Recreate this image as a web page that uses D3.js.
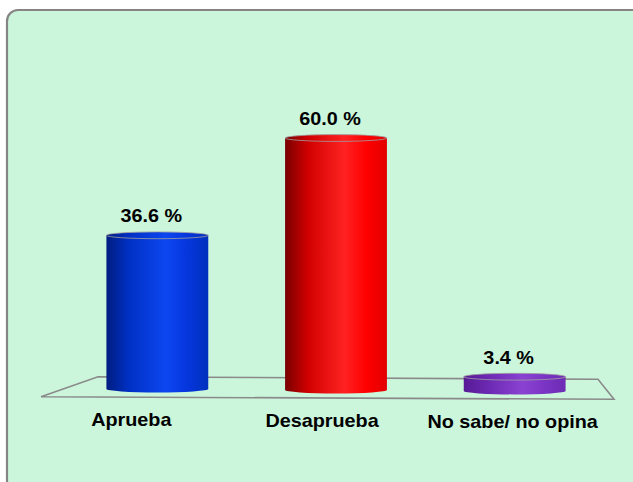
<!DOCTYPE html>
<html>
<head>
<meta charset="utf-8">
<script src="https://cdn.jsdelivr.net/npm/d3@7"></script>
<style>
  body { margin: 0; background: #ffffff; }
  svg { display: block; }
  text { font-family: "Liberation Sans", Arial, sans-serif; font-weight: bold; fill: #000; }
</style>
</head>
<body>
<svg id="chart" width="633" height="482"></svg>
<script>
let categories = ["Aprueba", "Desaprueba", "No sabe/ no opina"];
let values = [36.6, 60.0, 3.4];
let valueLabels = ["36.6 %", "60.0 %", "3.4 %"];
let barColors = [
  ["#001d80", "#0030c4", "#0d46f0", "#0536dc", "#0030bc"],
  ["#780000", "#d00000", "#ff2222", "#ff0000", "#e20000"],
  ["#561a96", "#6a28b0", "#8a42d2", "#7a34c4", "#6c2cb4"]
];

let svg = d3.select("#chart");
let defs = svg.append("defs");

// panel
svg.append("rect")
  .attr("x", 7).attr("y", 10)
  .attr("width", 650).attr("height", 490)
  .attr("rx", 11)
  .style("fill", "#ccf6dc")
  .style("stroke", "#858585")
  .style("stroke-width", 2.2);

// floor (perspective plane)
let floor = { backL: [98, 376.7], backR: [598, 379.3], frontL: [41, 396.7], frontR: [614, 399.3] };
svg.append("path")
  .attr("d", d3.line()([floor.frontL, floor.backL, floor.backR, floor.frontR, floor.frontL]))
  .style("fill", "none")
  .style("stroke", "#8a8a8a")
  .style("stroke-width", 1.6);

// bars sit at the mid depth of the floor, labels along the front edge
let xScale = d3.scaleBand().domain(categories).range([68, 604]).paddingInner(0.43).paddingOuter(0.215);
let xFront = d3.scaleBand().domain(categories).range([36, 608]);
let hScale = d3.scaleLinear().domain([0, 60]).range([0, 252]);
let baseY = d3.scaleLinear().domain([157, 515]).range([389, 391]);

let ry = 3.4;

categories.forEach(function(c, i) {
  let g = defs.append("linearGradient").attr("id", "grad" + i)
    .attr("x1", "0%").attr("x2", "100%").attr("y1", "0%").attr("y2", "0%");
  let stops = [0, 0.22, 0.58, 0.8, 1];
  stops.forEach(function(s, j) {
    g.append("stop").attr("offset", s).attr("stop-color", barColors[i][j]);
  });
});

function label(x, y, txt) {
  svg.append("text")
    .attr("transform", "translate(" + x + "," + y + ") scale(1.1,1)")
    .attr("text-anchor", "middle")
    .style("font-size", "18px")
    .text(txt);
}

let bars = svg.append("g");
categories.forEach(function(c, i) {
  let x0 = xScale(c);
  let w = xScale.bandwidth();
  let cx = x0 + w / 2;
  let yb = baseY(cx);
  let yt = yb - hScale(values[i]);
  let rx = w / 2;

  let body = "M" + x0 + "," + yt +
    " L" + x0 + "," + yb +
    " A" + rx + "," + ry + " 0 0 0 " + (x0 + w) + "," + yb +
    " L" + (x0 + w) + "," + yt + " Z";
  bars.append("path")
    .attr("d", body)
    .style("fill", "url(#grad" + i + ")");

  bars.append("ellipse")
    .attr("cx", cx).attr("cy", yt)
    .attr("rx", rx).attr("ry", ry)
    .style("fill", "url(#grad" + i + ")")
    .style("stroke", "#a0a0a0")
    .style("stroke-width", 0.8);

  label(cx - 6, yt - ry - 9.5, valueLabels[i]);
});

// category labels
let frontY = d3.scaleLinear().domain([41, 614]).range([426, 428.5]);
categories.forEach(function(c) {
  let cx = xFront(c) + xFront.bandwidth() / 2;
  label(cx, frontY(cx), c);
});
</script>
</body>
</html>
